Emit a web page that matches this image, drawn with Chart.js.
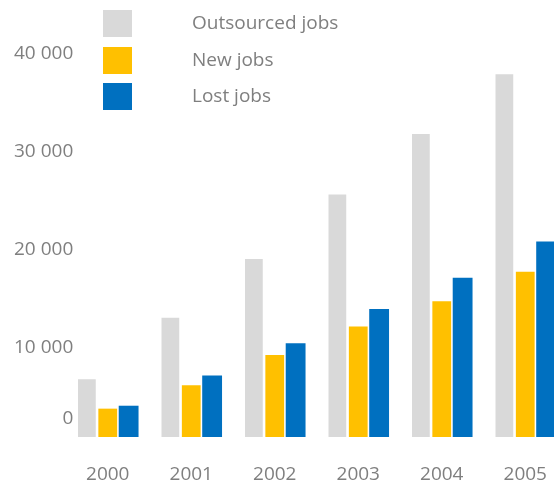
<!DOCTYPE html>
<html>
<head>
<meta charset="utf-8">
<title>Jobs</title>
<script src="https://cdn.jsdelivr.net/npm/chart.js@4/dist/chart.umd.min.js"></script>
<style>
    html, body {
        margin: 0;
        padding: 0;
        background: #ffffff;
    }
    #wrap {
        position: relative;
        width: 554px;
        height: 484px;
        overflow: hidden;
    }
    #chartBox {
        position: absolute;
        left: 0;
        top: 0;
        width: 567px;
        height: 484px;
    }
    #legend {
        position: absolute;
        left: 103px;
        top: 10px;
        font-family: "Open Sans", sans-serif;
        font-size: 19px;
        color: #7f7f7f;
    }
    .legend-item {
        position: relative;
        height: 27px;
        margin-bottom: 9.5px;
    }
    .legend-box {
        position: absolute;
        left: 0;
        top: 0;
        width: 29px;
        height: 27px;
    }
    .legend-text {
        position: absolute;
        left: 89px;
        top: -1px;
        line-height: 27px;
        white-space: nowrap;
    }
</style>
</head>
<body>
<div id="wrap">
    <div id="chartBox"><canvas id="jobsChart" width="567" height="484"></canvas></div>
    <div id="legend"></div>
</div>
<script>
// Years on the x axis
const years = ["2000", "2001", "2002", "2003", "2004", "2005"];

// Job counts per year
const outsourcedJobs = [5900, 12200, 18200, 24800, 31000, 37100];
const newJobs = [2900, 5300, 8400, 11300, 13900, 16900];
const lostJobs = [3200, 6300, 9600, 13100, 16300, 20000];

// Y axis tick values
const yTicks = [0, 10000, 20000, 30000, 40000];

const seriesNames = ["Outsourced jobs", "New jobs", "Lost jobs"];
const seriesColors = ["#d9d9d9", "#ffc000", "#0070c0"];

const textColor = "#7f7f7f";
const fontFamily = "'Open Sans', sans-serif";

// 40000 -> "40 000"
function formatThousands(value) {
    return String(value).replace(/\B(?=(\d{3})+(?!\d))/g, " ");
}

function buildLegend() {
    const legend = document.getElementById("legend");
    seriesNames.forEach((name, i) => {
        const item = document.createElement("div");
        item.className = "legend-item";
        const box = document.createElement("div");
        box.className = "legend-box";
        box.style.background = seriesColors[i];
        const text = document.createElement("span");
        text.className = "legend-text";
        text.textContent = name;
        item.appendChild(box);
        item.appendChild(text);
        legend.appendChild(item);
    });
}

const ctx = document.getElementById("jobsChart").getContext("2d");
const jobsChart = new Chart(ctx, {
    type: "bar",
    data: {
        labels: years,
        datasets: [
            {
                label: seriesNames[0],
                data: outsourcedJobs,
                backgroundColor: seriesColors[0],
                barPercentage: 0.85
            },
            {
                label: seriesNames[1],
                data: newJobs,
                backgroundColor: seriesColors[1],
                barPercentage: 0.9
            },
            {
                label: seriesNames[2],
                data: lostJobs,
                backgroundColor: seriesColors[2],
                barPercentage: 0.95
            }
        ]
    },
    options: {
        responsive: false,
        animation: false,
        datasets: {
            bar: {
                categoryPercentage: 0.75
            }
        },
        layout: {
            padding: { top: 46, bottom: 0, left: 66, right: 0 }
        },
        plugins: {
            legend: { display: false },
            tooltip: { enabled: false }
        },
        scales: {
            x: {
                grid: { display: false, drawTicks: false },
                border: { display: false },
                afterFit: (scale) => {
                    scale.height = 47;
                },
                ticks: {
                    color: textColor,
                    padding: 0,
                    // tall line box pushes the year labels down from the bars
                    font: { family: fontFamily, size: 19, lineHeight: "75px" }
                }
            },
            y: {
                min: yTicks[0],
                max: yTicks[yTicks.length - 1],
                grid: { display: false, drawTicks: false },
                border: { display: false },
                afterFit: (scale) => {
                    scale.width = 0;
                },
                afterBuildTicks: (scale) => {
                    scale.ticks = yTicks.map(v => ({ value: v }));
                },
                ticks: {
                    // labels sit in the left padding, right aligned
                    mirror: true,
                    crossAlign: "far",
                    color: textColor,
                    padding: -52,
                    labelOffset: 8,
                    // the zero label sits a bit higher than the others
                    font: (c) => ({
                        family: fontFamily,
                        size: 19,
                        lineHeight: c.tick && c.tick.value === 0 ? "26px" : 1.2
                    }),
                    callback: (value) => value === 0 ? ["0", "", ""] : formatThousands(value)
                }
            }
        }
    }
});

buildLegend();
</script>
</body>
</html>
